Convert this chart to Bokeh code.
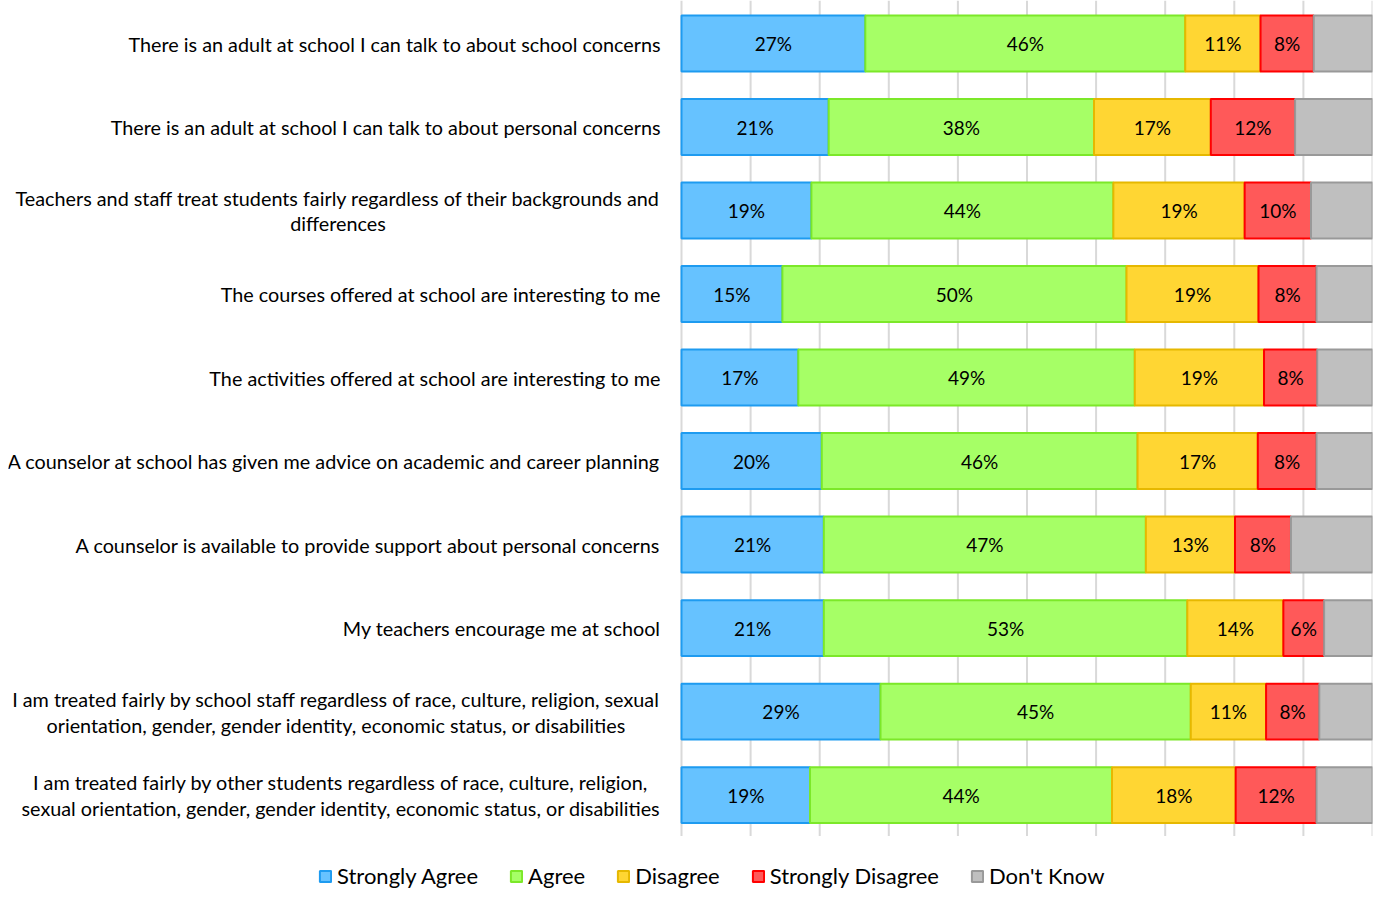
from bokeh.plotting import figure
from bokeh.models import ColumnDataSource, Legend
from bokeh.core.properties import value
from bokeh.embed import file_html
from bokeh.resources import INLINE

statements = [
    "There is an adult at school I can talk to about school concerns",
    "There is an adult at school I can talk to about personal concerns",
    "Teachers and staff treat students fairly regardless of their backgrounds and\ndifferences",
    "The courses offered at school are interesting to me",
    "The activities offered at school are interesting to me",
    "A counselor at school has given me advice on academic and career planning",
    "A counselor is available to provide support about personal concerns",
    "My teachers encourage me at school",
    "I am treated fairly by school staff regardless of race, culture, religion, sexual\norientation, gender, gender identity, economic status, or disabilities",
    "I am treated fairly by other students regardless of race, culture, religion,\nsexual orientation, gender, gender identity, economic status, or disabilities",
]
strongly_agree    = [26.6, 21.3, 18.8, 14.6, 16.9, 20.3, 20.6, 20.6, 28.8, 18.6]
agree             = [46.3, 38.4, 43.7, 49.8, 48.7, 45.7, 46.6, 52.6, 44.9, 43.7]
disagree          = [10.9, 16.9, 19.0, 19.1, 18.7, 17.4, 12.9, 13.9, 10.9, 17.9]
strongly_disagree = [7.7, 12.2, 9.6, 8.4, 7.7, 8.5, 8.1, 5.9, 7.7, 11.7]
dont_know         = [8.5, 11.2, 8.9, 8.1, 8.0, 8.1, 11.8, 7.0, 7.7, 8.1]
grid_ticks = [0, 10, 20, 30, 40, 50, 60, 70, 80, 90, 100]

series_names = ["Strongly Agree", "Agree", "Disagree", "Strongly Disagree", "Don't Know"]
keys = ["sa", "a", "d", "sd", "dk"]
fills = ["#66C2FF", "#A6FF66", "#FFD633", "#FF5959", "#BFBFBF"]
lines = ["#1E9BF0", "#7CE829", "#E6B800", "#FF0000", "#999999"]

FONT = "Lato"
n = len(statements)
pos = [n - 1 - i for i in range(n)]  # first statement at top

data = dict(y=pos, name=statements, sa=strongly_agree, a=agree, d=disagree,
            sd=strongly_disagree, dk=dont_know)
source = ColumnDataSource(data)

PX_PER_PCT = 6.91
Y_TOP = n - 1 + 0.515
Y_BOTTOM = -1.13
p = figure(width=1375, height=889, output_backend="svg", toolbar_location=None,
           x_range=(-673 / PX_PER_PCT, 100), y_range=(Y_BOTTOM, Y_TOP),
           min_border_left=8, min_border_right=3, min_border_top=0,
           min_border_bottom=0)
p.outline_line_color = None
p.background_fill_color = "white"
p.xaxis.visible = False
p.yaxis.visible = False
p.xgrid.grid_line_color = None
p.ygrid.grid_line_color = None

# vertical gridlines over the bar area only
p.segment(x0=grid_ticks, x1=grid_ticks, y0=[-0.49] * len(grid_ticks),
          y1=[Y_TOP] * len(grid_ticks), line_color="#D9D9D9", line_width=2)

renderers = p.hbar_stack(keys, y="y", height=0.67, source=source,
                         fill_color=fills, line_color=lines, line_width=2)

# bar labels (not for Don't Know)
label_x, label_y, label_t = [], [], []
for i in range(n):
    vals = [strongly_agree[i], agree[i], disagree[i], strongly_disagree[i]]
    cum = 0.0
    for v in vals:
        label_x.append(cum + v / 2)
        label_y.append(pos[i])
        label_t.append(f"{round(v)}%")
        cum += v
lsrc = ColumnDataSource(dict(x=label_x, y=label_y, t=label_t))
p.text(x="x", y="y", text="t", source=lsrc, text_align="center",
       text_baseline="middle", text_font=value(FONT), text_font_size="19px",
       text_color="#000000")

# category labels: right-anchored block, centred lines
csrc = ColumnDataSource(dict(y=pos, t=statements, x=[-21 / PX_PER_PCT] * n))
p.text(x="x", y="y", text="t", source=csrc, anchor="center_right",
       text_align="center", text_baseline="middle", text_font=value(FONT),
       text_font_size="19.8px", text_color="#000000", text_line_height=1.08)

legend = Legend(items=[(nm, [r]) for nm, r in zip(series_names, renderers)],
                orientation="horizontal", location=(310, 0),
                label_text_font=FONT, label_text_font_size="22px",
                label_text_color="#000000",
                glyph_width=14, glyph_height=14, label_standoff=5,
                spacing=31, border_line_color=None, background_fill_alpha=0,
                padding=0, margin=0)
p.add_layout(legend, "center")

open("out.html", "w").write(file_html(p, INLINE))
